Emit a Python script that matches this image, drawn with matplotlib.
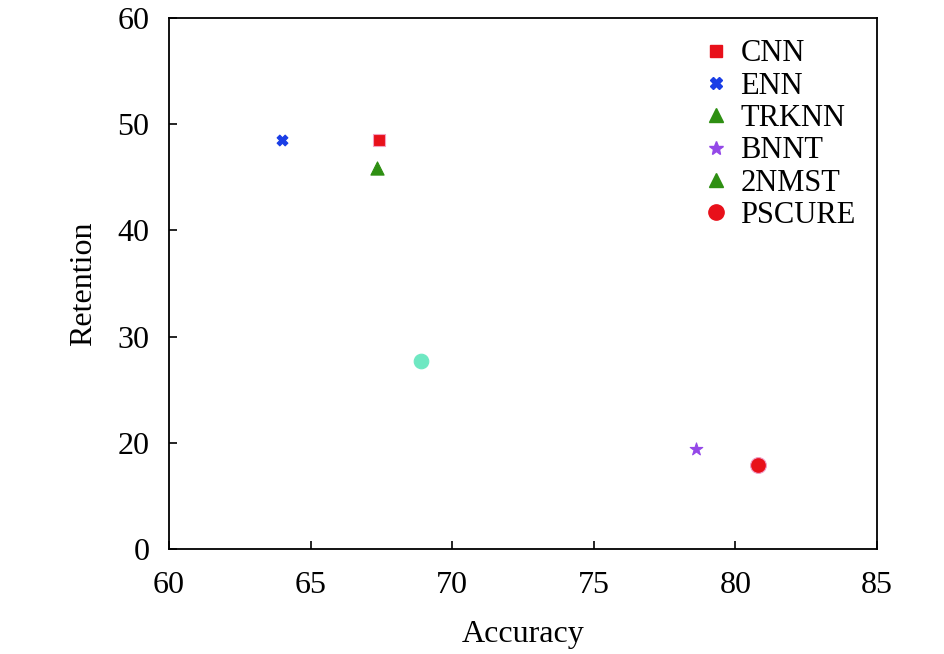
import matplotlib
matplotlib.use("Agg")
import matplotlib.pyplot as plt
from matplotlib.lines import Line2D

methods = ["CNN", "ENN", "TRKNN", "BNNT", "2NMST", "PSCURE"]
accuracy = [67.4, 64.0, 67.35, 78.6, 68.9, 80.8]
retention = [48.5, 48.5, 45.9, 19.45, 27.7, 17.9]

x_ticks = [60, 65, 70, 75, 80, 85]
y_ticks = [10, 20, 30, 40, 50, 60]
y_tick_labels = ["0", "20", "30", "40", "50", "60"]

# plotted style per method
point_markers = ["s", "X", "^", "*", "o", "o"]
point_colors = ["#e8101a", "#1a3ee6", "#2e8f12", "#9448e8", "#6ee8c2", "#e8101a"]
point_edges = ["#f5a0c0", "#1a3ee6", "#2e8f12", "#9448e8", "#6ee8c2", "#f0a0c8"]
point_sizes = [80, 60, 90, 90, 110, 130]
# legend style per method
legend_markers = ["s", "X", "^", "*", "^", "o"]
legend_colors = ["#e8101a", "#1a3ee6", "#2e8f12", "#9448e8", "#2e8f12", "#e8101a"]
legend_msizes = [8, 8, 10, 10, 10, 11]

plt.rcParams["font.family"] = ["Liberation Serif", "DejaVu Serif"]

fig = plt.figure(figsize=(9.45, 6.54), dpi=100)
ax = fig.add_axes([0.1788, 0.1606, 0.7492, 0.8119])

for i in range(len(methods)):
    ax.scatter(accuracy[i], retention[i], marker=point_markers[i], s=point_sizes[i],
               c=point_colors[i], edgecolors=point_edges[i], linewidths=0.8, zorder=3)

handles = [Line2D([], [], linestyle="none", marker=legend_markers[i], color=legend_colors[i],
                  markersize=legend_msizes[i], markeredgecolor=legend_colors[i])
           for i in range(len(methods))]
ax.legend(handles, methods, loc="upper right", frameon=False, fontsize=22,
          handletextpad=0.25, labelspacing=0.11, borderaxespad=0.3, handlelength=1.1,
          bbox_to_anchor=(1.0, 1.0))

ax.set_xlim(60, 85)
ax.set_ylim(10, 60)
ax.set_xticks(x_ticks)
ax.set_yticks(y_ticks)
ax.set_yticklabels(y_tick_labels)
ax.tick_params(direction="in", length=6, width=1.2, labelsize=23,
               top=False, right=False)
ax.tick_params(axis="y", pad=14)
ax.tick_params(axis="x", pad=16)
for sp in ax.spines.values():
    sp.set_linewidth(1.3)
ax.set_xlabel("Accuracy", fontsize=23, labelpad=14)
ax.set_ylabel("Retention", fontsize=23, labelpad=14)

fig.savefig("out.png", dpi=100)
